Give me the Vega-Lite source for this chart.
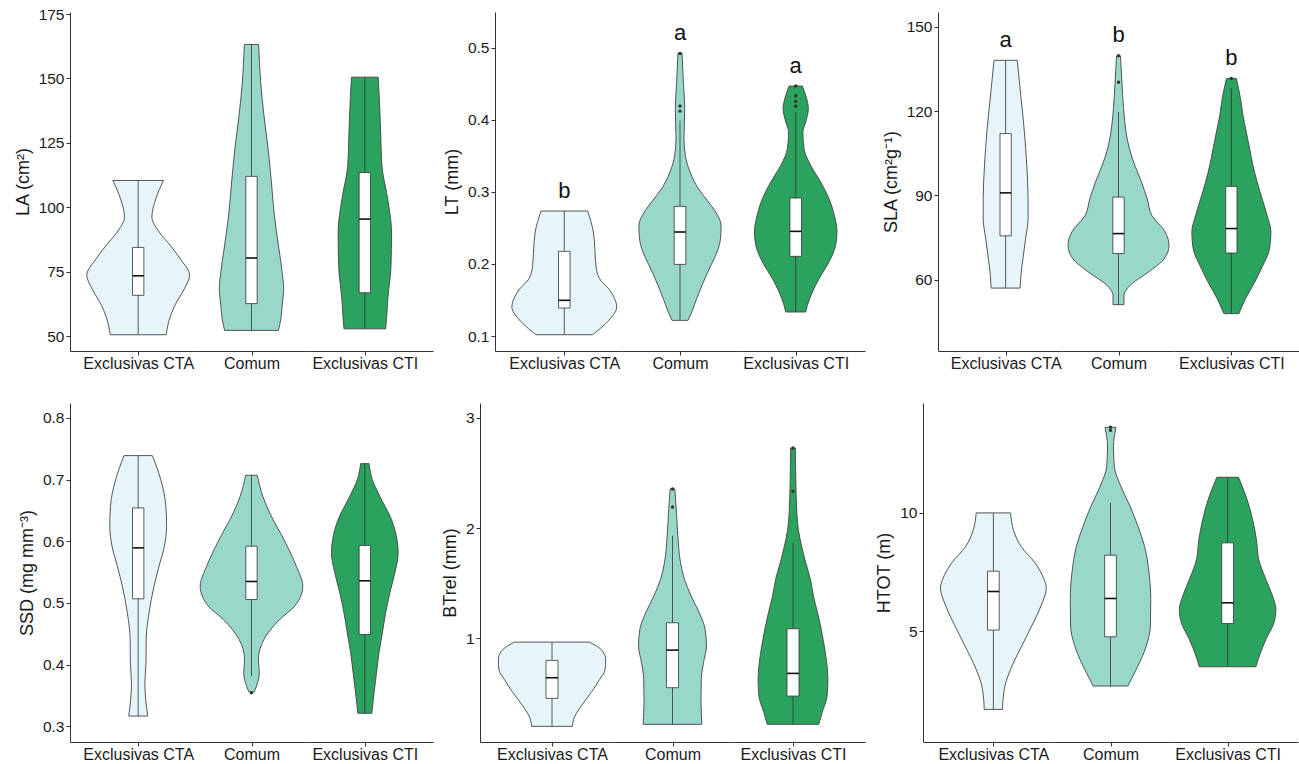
{
"$schema":"https://vega.github.io/schema/vega-lite/v6.json",
"background":"white",
"padding":{"left":14,"top":7,"right":2,"bottom":2},
"config":{"font":"Liberation Sans","view":{"stroke":null},
"axis":{"grid":false,"domainColor":"#333","tickColor":"#333","labelColor":"#1a1a1a","titleColor":"#1a1a1a","titleFontWeight":"normal","domainWidth":1,"tickWidth":1},
"axisY":{"labelFontSize":15.5,"titleFontSize":18,"tickSize":4,"labelPadding":2,"titlePadding":6},
"axisX":{"labelFontSize":16,"tickSize":4,"labelPadding":0,"labelFlush":false},
"circle":{"size":12,"color":"#333","opacity":1}},
"data":{"values":[
{"p":"LA","g":"Exclusivas CTA","k":"v","y":110.4,"w":0.446},{"p":"LA","g":"Exclusivas CTA","k":"v","y":103.3,"w":0.311},{"p":"LA","g":"Exclusivas CTA","k":"v","y":96.2,"w":0.241},{"p":"LA","g":"Exclusivas CTA","k":"v","y":90.4,"w":0.370},{"p":"LA","g":"Exclusivas CTA","k":"v","y":85.2,"w":0.564},{"p":"LA","g":"Exclusivas CTA","k":"v","y":80.0,"w":0.740},{"p":"LA","g":"Exclusivas CTA","k":"v","y":73.6,"w":0.905},{"p":"LA","g":"Exclusivas CTA","k":"v","y":68.4,"w":0.813},{"p":"LA","g":"Exclusivas CTA","k":"v","y":61.9,"w":0.646},{"p":"LA","g":"Exclusivas CTA","k":"v","y":56.7,"w":0.552},{"p":"LA","g":"Exclusivas CTA","k":"v","y":50.5,"w":0.493},
{"p":"LA","g":"Comum","k":"v","y":163.2,"w":0.126},{"p":"LA","g":"Comum","k":"v","y":148.6,"w":0.162},{"p":"LA","g":"Comum","k":"v","y":135.7,"w":0.220},{"p":"LA","g":"Comum","k":"v","y":122.7,"w":0.294},{"p":"LA","g":"Comum","k":"v","y":109.8,"w":0.352},{"p":"LA","g":"Comum","k":"v","y":96.8,"w":0.405},{"p":"LA","g":"Comum","k":"v","y":83.9,"w":0.485},{"p":"LA","g":"Comum","k":"v","y":74.8,"w":0.543},{"p":"LA","g":"Comum","k":"v","y":68.4,"w":0.570},{"p":"LA","g":"Comum","k":"v","y":61.9,"w":0.543},{"p":"LA","g":"Comum","k":"v","y":56.7,"w":0.520},{"p":"LA","g":"Comum","k":"v","y":52.2,"w":0.476},
{"p":"LA","g":"Exclusivas CTI","k":"v","y":150.5,"w":0.235},{"p":"LA","g":"Exclusivas CTI","k":"v","y":142.1,"w":0.256},{"p":"LA","g":"Exclusivas CTI","k":"v","y":129.2,"w":0.279},{"p":"LA","g":"Exclusivas CTI","k":"v","y":116.3,"w":0.300},{"p":"LA","g":"Exclusivas CTI","k":"v","y":103.3,"w":0.402},{"p":"LA","g":"Exclusivas CTI","k":"v","y":90.4,"w":0.470},{"p":"LA","g":"Exclusivas CTI","k":"v","y":77.4,"w":0.461},{"p":"LA","g":"Exclusivas CTI","k":"v","y":64.5,"w":0.405},{"p":"LA","g":"Exclusivas CTI","k":"v","y":56.7,"w":0.382},{"p":"LA","g":"Exclusivas CTI","k":"v","y":52.8,"w":0.367},
{"p":"LT","g":"Exclusivas CTA","k":"v","y":0.2734,"w":0.404},{"p":"LT","g":"Exclusivas CTA","k":"v","y":0.2443,"w":0.504},{"p":"LT","g":"Exclusivas CTA","k":"v","y":0.2212,"w":0.530},{"p":"LT","g":"Exclusivas CTA","k":"v","y":0.1980,"w":0.548},{"p":"LT","g":"Exclusivas CTA","k":"v","y":0.1795,"w":0.611},{"p":"LT","g":"Exclusivas CTA","k":"v","y":0.1657,"w":0.767},{"p":"LT","g":"Exclusivas CTA","k":"v","y":0.1518,"w":0.873},{"p":"LT","g":"Exclusivas CTA","k":"v","y":0.1402,"w":0.908},{"p":"LT","g":"Exclusivas CTA","k":"v","y":0.1240,"w":0.796},{"p":"LT","g":"Exclusivas CTA","k":"v","y":0.1102,"w":0.620},{"p":"LT","g":"Exclusivas CTA","k":"v","y":0.1018,"w":0.490},
{"p":"LT","g":"Comum","k":"v","y":0.4926,"w":0.035},{"p":"LT","g":"Comum","k":"v","y":0.4524,"w":0.058},{"p":"LT","g":"Comum","k":"v","y":0.4154,"w":0.081},{"p":"LT","g":"Comum","k":"v","y":0.3738,"w":0.069},{"p":"LT","g":"Comum","k":"v","y":0.3506,"w":0.092},{"p":"LT","g":"Comum","k":"v","y":0.3275,"w":0.173},{"p":"LT","g":"Comum","k":"v","y":0.3044,"w":0.317},{"p":"LT","g":"Comum","k":"v","y":0.2859,"w":0.490},{"p":"LT","g":"Comum","k":"v","y":0.2674,"w":0.649},{"p":"LT","g":"Comum","k":"v","y":0.2535,"w":0.709},{"p":"LT","g":"Comum","k":"v","y":0.2350,"w":0.698},{"p":"LT","g":"Comum","k":"v","y":0.2165,"w":0.640},{"p":"LT","g":"Comum","k":"v","y":0.1980,"w":0.533},{"p":"LT","g":"Comum","k":"v","y":0.1749,"w":0.404},{"p":"LT","g":"Comum","k":"v","y":0.1518,"w":0.288},{"p":"LT","g":"Comum","k":"v","y":0.1333,"w":0.202},{"p":"LT","g":"Comum","k":"v","y":0.1217,"w":0.138},
{"p":"LT","g":"Exclusivas CTI","k":"v","y":0.4468,"w":0.115},{"p":"LT","g":"Exclusivas CTI","k":"v","y":0.4293,"w":0.190},{"p":"LT","g":"Exclusivas CTI","k":"v","y":0.4154,"w":0.219},{"p":"LT","g":"Exclusivas CTI","k":"v","y":0.3969,"w":0.173},{"p":"LT","g":"Exclusivas CTI","k":"v","y":0.3830,"w":0.124},{"p":"LT","g":"Exclusivas CTI","k":"v","y":0.3599,"w":0.144},{"p":"LT","g":"Exclusivas CTI","k":"v","y":0.3368,"w":0.259},{"p":"LT","g":"Exclusivas CTI","k":"v","y":0.3136,"w":0.432},{"p":"LT","g":"Exclusivas CTI","k":"v","y":0.2905,"w":0.577},{"p":"LT","g":"Exclusivas CTI","k":"v","y":0.2674,"w":0.669},{"p":"LT","g":"Exclusivas CTI","k":"v","y":0.2443,"w":0.715},{"p":"LT","g":"Exclusivas CTI","k":"v","y":0.2258,"w":0.692},{"p":"LT","g":"Exclusivas CTI","k":"v","y":0.2027,"w":0.577},{"p":"LT","g":"Exclusivas CTI","k":"v","y":0.1795,"w":0.404},{"p":"LT","g":"Exclusivas CTI","k":"v","y":0.1610,"w":0.288},{"p":"LT","g":"Exclusivas CTI","k":"v","y":0.1425,"w":0.202},{"p":"LT","g":"Exclusivas CTI","k":"v","y":0.1333,"w":0.173},
{"p":"SLA","g":"Exclusivas CTA","k":"v","y":138.1,"w":0.206},{"p":"SLA","g":"Exclusivas CTA","k":"v","y":124.5,"w":0.274},{"p":"SLA","g":"Exclusivas CTA","k":"v","y":112.6,"w":0.333},{"p":"SLA","g":"Exclusivas CTA","k":"v","y":100.7,"w":0.375},{"p":"SLA","g":"Exclusivas CTA","k":"v","y":88.8,"w":0.398},{"p":"SLA","g":"Exclusivas CTA","k":"v","y":81.7,"w":0.398},{"p":"SLA","g":"Exclusivas CTA","k":"v","y":74.6,"w":0.354},{"p":"SLA","g":"Exclusivas CTA","k":"v","y":67.5,"w":0.307},{"p":"SLA","g":"Exclusivas CTA","k":"v","y":61.5,"w":0.271},{"p":"SLA","g":"Exclusivas CTA","k":"v","y":57.0,"w":0.257},
{"p":"SLA","g":"Comum","k":"v","y":139.7,"w":0.035},{"p":"SLA","g":"Comum","k":"v","y":130.4,"w":0.060},{"p":"SLA","g":"Comum","k":"v","y":120.9,"w":0.090},{"p":"SLA","g":"Comum","k":"v","y":112.6,"w":0.133},{"p":"SLA","g":"Comum","k":"v","y":106.7,"w":0.192},{"p":"SLA","g":"Comum","k":"v","y":100.7,"w":0.289},{"p":"SLA","g":"Comum","k":"v","y":94.8,"w":0.407},{"p":"SLA","g":"Comum","k":"v","y":88.8,"w":0.507},{"p":"SLA","g":"Comum","k":"v","y":82.9,"w":0.590},{"p":"SLA","g":"Comum","k":"v","y":77.0,"w":0.826},{"p":"SLA","g":"Comum","k":"v","y":72.2,"w":0.894},{"p":"SLA","g":"Comum","k":"v","y":67.5,"w":0.811},{"p":"SLA","g":"Comum","k":"v","y":62.7,"w":0.531},{"p":"SLA","g":"Comum","k":"v","y":58.0,"w":0.206},{"p":"SLA","g":"Comum","k":"v","y":54.4,"w":0.097},{"p":"SLA","g":"Comum","k":"v","y":51.1,"w":0.097},
{"p":"SLA","g":"Exclusivas CTI","k":"v","y":131.6,"w":0.088},{"p":"SLA","g":"Exclusivas CTI","k":"v","y":124.5,"w":0.162},{"p":"SLA","g":"Exclusivas CTI","k":"v","y":118.5,"w":0.206},{"p":"SLA","g":"Exclusivas CTI","k":"v","y":112.6,"w":0.265},{"p":"SLA","g":"Exclusivas CTI","k":"v","y":106.7,"w":0.324},{"p":"SLA","g":"Exclusivas CTI","k":"v","y":100.7,"w":0.383},{"p":"SLA","g":"Exclusivas CTI","k":"v","y":94.8,"w":0.457},{"p":"SLA","g":"Exclusivas CTI","k":"v","y":88.8,"w":0.546},{"p":"SLA","g":"Exclusivas CTI","k":"v","y":82.9,"w":0.634},{"p":"SLA","g":"Exclusivas CTI","k":"v","y":77.0,"w":0.702},{"p":"SLA","g":"Exclusivas CTI","k":"v","y":71.0,"w":0.678},{"p":"SLA","g":"Exclusivas CTI","k":"v","y":65.1,"w":0.560},{"p":"SLA","g":"Exclusivas CTI","k":"v","y":59.1,"w":0.413},{"p":"SLA","g":"Exclusivas CTI","k":"v","y":53.2,"w":0.251},{"p":"SLA","g":"Exclusivas CTI","k":"v","y":47.9,"w":0.133},
{"p":"SSD","g":"Exclusivas CTA","k":"v","y":0.7390,"w":0.250},{"p":"SSD","g":"Exclusivas CTA","k":"v","y":0.7001,"w":0.397},{"p":"SSD","g":"Exclusivas CTA","k":"v","y":0.6569,"w":0.488},{"p":"SSD","g":"Exclusivas CTA","k":"v","y":0.6245,"w":0.500},{"p":"SSD","g":"Exclusivas CTA","k":"v","y":0.5921,"w":0.461},{"p":"SSD","g":"Exclusivas CTA","k":"v","y":0.5597,"w":0.367},{"p":"SSD","g":"Exclusivas CTA","k":"v","y":0.5273,"w":0.279},{"p":"SSD","g":"Exclusivas CTA","k":"v","y":0.4841,"w":0.191},{"p":"SSD","g":"Exclusivas CTA","k":"v","y":0.4409,"w":0.141},{"p":"SSD","g":"Exclusivas CTA","k":"v","y":0.4031,"w":0.138},{"p":"SSD","g":"Exclusivas CTA","k":"v","y":0.3707,"w":0.118},{"p":"SSD","g":"Exclusivas CTA","k":"v","y":0.3437,"w":0.132},{"p":"SSD","g":"Exclusivas CTA","k":"v","y":0.3167,"w":0.167},
{"p":"SSD","g":"Comum","k":"v","y":0.7071,"w":0.103},{"p":"SSD","g":"Comum","k":"v","y":0.6731,"w":0.200},{"p":"SSD","g":"Comum","k":"v","y":0.6461,"w":0.323},{"p":"SSD","g":"Comum","k":"v","y":0.6029,"w":0.573},{"p":"SSD","g":"Comum","k":"v","y":0.5597,"w":0.793},{"p":"SSD","g":"Comum","k":"v","y":0.5273,"w":0.908},{"p":"SSD","g":"Comum","k":"v","y":0.4949,"w":0.764},{"p":"SSD","g":"Comum","k":"v","y":0.4733,"w":0.500},{"p":"SSD","g":"Comum","k":"v","y":0.4409,"w":0.220},{"p":"SSD","g":"Comum","k":"v","y":0.4085,"w":0.123},{"p":"SSD","g":"Comum","k":"v","y":0.3869,"w":0.138},{"p":"SSD","g":"Comum","k":"v","y":0.3653,"w":0.088},{"p":"SSD","g":"Comum","k":"v","y":0.3556,"w":0.044},
{"p":"SSD","g":"Exclusivas CTI","k":"v","y":0.7260,"w":0.073},{"p":"SSD","g":"Exclusivas CTI","k":"v","y":0.7001,"w":0.132},{"p":"SSD","g":"Exclusivas CTI","k":"v","y":0.6731,"w":0.264},{"p":"SSD","g":"Exclusivas CTI","k":"v","y":0.6353,"w":0.470},{"p":"SSD","g":"Exclusivas CTI","k":"v","y":0.6029,"w":0.567},{"p":"SSD","g":"Exclusivas CTI","k":"v","y":0.5813,"w":0.588},{"p":"SSD","g":"Exclusivas CTI","k":"v","y":0.5489,"w":0.529},{"p":"SSD","g":"Exclusivas CTI","k":"v","y":0.5165,"w":0.441},{"p":"SSD","g":"Exclusivas CTI","k":"v","y":0.4841,"w":0.367},{"p":"SSD","g":"Exclusivas CTI","k":"v","y":0.4517,"w":0.309},{"p":"SSD","g":"Exclusivas CTI","k":"v","y":0.4193,"w":0.250},{"p":"SSD","g":"Exclusivas CTI","k":"v","y":0.3869,"w":0.206},{"p":"SSD","g":"Exclusivas CTI","k":"v","y":0.3491,"w":0.156},{"p":"SSD","g":"Exclusivas CTI","k":"v","y":0.3211,"w":0.123},
{"p":"BTrel","g":"Exclusivas CTA","k":"v","y":0.9668,"w":0.626},{"p":"BTrel","g":"Exclusivas CTA","k":"v","y":0.9003,"w":0.817},{"p":"BTrel","g":"Exclusivas CTA","k":"v","y":0.8097,"w":0.895},{"p":"BTrel","g":"Exclusivas CTA","k":"v","y":0.7190,"w":0.886},{"p":"BTrel","g":"Exclusivas CTA","k":"v","y":0.6284,"w":0.795},{"p":"BTrel","g":"Exclusivas CTA","k":"v","y":0.5076,"w":0.651},{"p":"BTrel","g":"Exclusivas CTA","k":"v","y":0.3867,"w":0.485},{"p":"BTrel","g":"Exclusivas CTA","k":"v","y":0.2659,"w":0.360},{"p":"BTrel","g":"Exclusivas CTA","k":"v","y":0.2024,"w":0.341},
{"p":"BTrel","g":"Comum","k":"v","y":2.3565,"w":0.039},{"p":"BTrel","g":"Comum","k":"v","y":2.1390,"w":0.066},{"p":"BTrel","g":"Comum","k":"v","y":1.9275,"w":0.089},{"p":"BTrel","g":"Comum","k":"v","y":1.6858,"w":0.133},{"p":"BTrel","g":"Comum","k":"v","y":1.5347,"w":0.199},{"p":"BTrel","g":"Comum","k":"v","y":1.3837,"w":0.310},{"p":"BTrel","g":"Comum","k":"v","y":1.2326,"w":0.443},{"p":"BTrel","g":"Comum","k":"v","y":1.0816,"w":0.540},{"p":"BTrel","g":"Comum","k":"v","y":0.9305,"w":0.562},{"p":"BTrel","g":"Comum","k":"v","y":0.7795,"w":0.512},{"p":"BTrel","g":"Comum","k":"v","y":0.6284,"w":0.476},{"p":"BTrel","g":"Comum","k":"v","y":0.4471,"w":0.471},{"p":"BTrel","g":"Comum","k":"v","y":0.3263,"w":0.476},{"p":"BTrel","g":"Comum","k":"v","y":0.2205,"w":0.485},
{"p":"BTrel","g":"Exclusivas CTI","k":"v","y":2.7281,"w":0.039},{"p":"BTrel","g":"Exclusivas CTI","k":"v","y":2.4411,"w":0.047},{"p":"BTrel","g":"Exclusivas CTI","k":"v","y":2.1390,"w":0.064},{"p":"BTrel","g":"Exclusivas CTI","k":"v","y":1.9879,"w":0.089},{"p":"BTrel","g":"Exclusivas CTI","k":"v","y":1.8369,"w":0.144},{"p":"BTrel","g":"Exclusivas CTI","k":"v","y":1.6858,"w":0.213},{"p":"BTrel","g":"Exclusivas CTI","k":"v","y":1.5347,"w":0.291},{"p":"BTrel","g":"Exclusivas CTI","k":"v","y":1.3837,"w":0.341},{"p":"BTrel","g":"Exclusivas CTI","k":"v","y":1.2326,"w":0.410},{"p":"BTrel","g":"Exclusivas CTI","k":"v","y":1.0816,"w":0.471},{"p":"BTrel","g":"Exclusivas CTI","k":"v","y":0.9305,"w":0.521},{"p":"BTrel","g":"Exclusivas CTI","k":"v","y":0.7795,"w":0.562},{"p":"BTrel","g":"Exclusivas CTI","k":"v","y":0.6284,"w":0.582},{"p":"BTrel","g":"Exclusivas CTI","k":"v","y":0.4773,"w":0.568},{"p":"BTrel","g":"Exclusivas CTI","k":"v","y":0.3263,"w":0.485},{"p":"BTrel","g":"Exclusivas CTI","k":"v","y":0.2205,"w":0.429},
{"p":"HTOT","g":"Exclusivas CTA","k":"v","y":10.0,"w":0.293},{"p":"HTOT","g":"Exclusivas CTA","k":"v","y":9.298,"w":0.341},{"p":"HTOT","g":"Exclusivas CTA","k":"v","y":8.596,"w":0.469},{"p":"HTOT","g":"Exclusivas CTA","k":"v","y":7.893,"w":0.710},{"p":"HTOT","g":"Exclusivas CTA","k":"v","y":7.191,"w":0.866},{"p":"HTOT","g":"Exclusivas CTA","k":"v","y":6.840,"w":0.903},{"p":"HTOT","g":"Exclusivas CTA","k":"v","y":6.067,"w":0.810},{"p":"HTOT","g":"Exclusivas CTA","k":"v","y":5.225,"w":0.653},{"p":"HTOT","g":"Exclusivas CTA","k":"v","y":4.382,"w":0.483},{"p":"HTOT","g":"Exclusivas CTA","k":"v","y":3.399,"w":0.293},{"p":"HTOT","g":"Exclusivas CTA","k":"v","y":2.837,"w":0.210},{"p":"HTOT","g":"Exclusivas CTA","k":"v","y":2.275,"w":0.170},{"p":"HTOT","g":"Exclusivas CTA","k":"v","y":1.713,"w":0.156},
{"p":"HTOT","g":"Comum","k":"v","y":13.61,"w":0.094},{"p":"HTOT","g":"Comum","k":"v","y":12.809,"w":0.051},{"p":"HTOT","g":"Comum","k":"v","y":11.966,"w":0.065},{"p":"HTOT","g":"Comum","k":"v","y":11.124,"w":0.176},{"p":"HTOT","g":"Comum","k":"v","y":10.281,"w":0.335},{"p":"HTOT","g":"Comum","k":"v","y":9.438,"w":0.469},{"p":"HTOT","g":"Comum","k":"v","y":8.596,"w":0.582},{"p":"HTOT","g":"Comum","k":"v","y":7.472,"w":0.659},{"p":"HTOT","g":"Comum","k":"v","y":6.348,"w":0.688},{"p":"HTOT","g":"Comum","k":"v","y":5.225,"w":0.682},{"p":"HTOT","g":"Comum","k":"v","y":4.382,"w":0.611},{"p":"HTOT","g":"Comum","k":"v","y":3.539,"w":0.469},{"p":"HTOT","g":"Comum","k":"v","y":2.978,"w":0.355},{"p":"HTOT","g":"Comum","k":"v","y":2.697,"w":0.298},
{"p":"HTOT","g":"Exclusivas CTI","k":"v","y":11.503,"w":0.185},{"p":"HTOT","g":"Exclusivas CTI","k":"v","y":10.702,"w":0.313},{"p":"HTOT","g":"Exclusivas CTI","k":"v","y":9.719,"w":0.426},{"p":"HTOT","g":"Exclusivas CTI","k":"v","y":8.876,"w":0.491},{"p":"HTOT","g":"Exclusivas CTI","k":"v","y":8.034,"w":0.531},{"p":"HTOT","g":"Exclusivas CTI","k":"v","y":7.191,"w":0.653},{"p":"HTOT","g":"Exclusivas CTI","k":"v","y":6.489,"w":0.767},{"p":"HTOT","g":"Exclusivas CTI","k":"v","y":5.927,"w":0.824},{"p":"HTOT","g":"Exclusivas CTI","k":"v","y":5.365,"w":0.790},{"p":"HTOT","g":"Exclusivas CTI","k":"v","y":4.663,"w":0.653},{"p":"HTOT","g":"Exclusivas CTI","k":"v","y":3.961,"w":0.540},{"p":"HTOT","g":"Exclusivas CTI","k":"v","y":3.511,"w":0.483},
{"p":"LA","g":"Exclusivas CTA","k":"b","lo":50.5,"q1":65.8,"md":73.4,"q3":84.4,"hi":110.4},
{"p":"LA","g":"Comum","k":"b","lo":52.2,"q1":62.6,"md":80.3,"q3":112.0,"hi":163.2},
{"p":"LA","g":"Exclusivas CTI","k":"b","lo":52.8,"q1":66.8,"md":95.4,"q3":113.5,"hi":150.5},
{"p":"LT","g":"Exclusivas CTA","k":"b","lo":0.1018,"q1":0.1388,"md":0.1495,"q3":0.2175,"hi":0.2734},
{"p":"LT","g":"Comum","k":"b","lo":0.1217,"q1":0.1994,"md":0.2443,"q3":0.2799,"hi":0.3987},
{"p":"LT","g":"Exclusivas CTI","k":"b","lo":0.1333,"q1":0.2105,"md":0.2452,"q3":0.2914,"hi":0.4108},
{"p":"SLA","g":"Exclusivas CTA","k":"b","lo":57.0,"q1":75.6,"md":90.9,"q3":112.0,"hi":138.1},
{"p":"SLA","g":"Comum","k":"b","lo":51.1,"q1":69.3,"md":76.4,"q3":89.4,"hi":119.7},
{"p":"SLA","g":"Exclusivas CTI","k":"b","lo":47.9,"q1":69.5,"md":78.2,"q3":93.2,"hi":128.3},
{"p":"SSD","g":"Exclusivas CTA","k":"b","lo":0.3167,"q1":0.5068,"md":0.5894,"q3":0.6542,"hi":0.7390},
{"p":"SSD","g":"Comum","k":"b","lo":0.3815,"q1":0.5057,"md":0.5349,"q3":0.5921,"hi":0.7071},
{"p":"SSD","g":"Exclusivas CTI","k":"b","lo":0.3211,"q1":0.4490,"md":0.5360,"q3":0.5932,"hi":0.7260},
{"p":"BTrel","g":"Exclusivas CTA","k":"b","lo":0.2024,"q1":0.4562,"md":0.6435,"q3":0.8006,"hi":0.9668},
{"p":"BTrel","g":"Comum","k":"b","lo":0.2205,"q1":0.5529,"md":0.8943,"q3":1.1420,"hi":1.9335},
{"p":"BTrel","g":"Exclusivas CTI","k":"b","lo":0.2205,"q1":0.4773,"md":0.6828,"q3":1.0876,"hi":1.867},
{"p":"HTOT","g":"Exclusivas CTA","k":"b","lo":1.713,"q1":5.056,"md":6.685,"q3":7.542,"hi":10.0},
{"p":"HTOT","g":"Comum","k":"b","lo":2.697,"q1":4.775,"md":6.390,"q3":8.216,"hi":10.42},
{"p":"HTOT","g":"Exclusivas CTI","k":"b","lo":3.511,"q1":5.337,"md":6.208,"q3":8.736,"hi":11.503},
{"p":"LT","g":"Comum","k":"o","y":0.492},{"p":"LT","g":"Comum","k":"o","y":0.419},{"p":"LT","g":"Comum","k":"o","y":0.412},
{"p":"LT","g":"Exclusivas CTI","k":"o","y":0.4468},{"p":"LT","g":"Exclusivas CTI","k":"o","y":0.4334},{"p":"LT","g":"Exclusivas CTI","k":"o","y":0.4255},{"p":"LT","g":"Exclusivas CTI","k":"o","y":0.4186},
{"p":"SLA","g":"Comum","k":"o","y":139.7},{"p":"SLA","g":"Comum","k":"o","y":130.3},{"p":"SLA","g":"Exclusivas CTI","k":"o","y":131.6},
{"p":"SSD","g":"Comum","k":"o","y":0.3545},
{"p":"BTrel","g":"Comum","k":"o","y":2.356},{"p":"BTrel","g":"Comum","k":"o","y":2.193},{"p":"BTrel","g":"Exclusivas CTI","k":"o","y":2.728},{"p":"BTrel","g":"Exclusivas CTI","k":"o","y":2.335},
{"p":"HTOT","g":"Comum","k":"o","y":13.61},{"p":"HTOT","g":"Comum","k":"o","y":13.48},
{"p":"LT","g":"Exclusivas CTA","k":"t","y":0.3007,"l":"b"},{"p":"LT","g":"Comum","k":"t","y":0.5204,"l":"a"},{"p":"LT","g":"Exclusivas CTI","k":"t","y":0.4746,"l":"a"},
{"p":"SLA","g":"Exclusivas CTA","k":"t","y":145.5,"l":"a"},{"p":"SLA","g":"Comum","k":"t","y":147.0,"l":"b"},{"p":"SLA","g":"Exclusivas CTI","k":"t","y":139.0,"l":"b"}
]},
"spacing":32,
"vconcat":[
{"spacing":10,"hconcat":[
{"spacing":0,"bounds":"flush","hconcat":[
{"width":125,"height":339,"transform":[{"filter":"datum.p=='LA' && datum.g=='Exclusivas CTA'"}],"layer":[
{"transform":[{"filter":"datum.k=='v'"}],"mark":{"type":"area","orient":"horizontal","interpolate":"monotone","fill":"#e5f5f9","stroke":"#444","strokeWidth":0.9},"encoding":{"y":{"field":"y","type":"quantitative","scale":{"domain":[44.2,175.8],"nice":false,"zero":false},"axis":{"values":[50,75,100,125,150,175],"format":"d","title":"LA (cm²)"}},"x":{"field":"w","type":"quantitative","stack":"center","impute":null,"scale":{"domain":[-0.1475,0.9525],"nice":false,"zero":false},"axis":{"values":[0.4525],"labelExpr":"'Exclusivas CTA'","title":null}}}},
{"transform":[{"filter":"datum.k=='b'"}],"mark":{"type":"rule","color":"#333","strokeWidth":0.8},"encoding":{"x":{"datum":0.4525},"y":{"field":"lo","type":"quantitative"},"y2":{"field":"hi"}}},
{"transform":[{"filter":"datum.k=='b'"}],"mark":{"type":"bar","fill":"white","stroke":"#333","strokeWidth":0.8},"encoding":{"x":{"datum":0.4025},"x2":{"datum":0.5025},"y":{"field":"q1","type":"quantitative"},"y2":{"field":"q3"}}},
{"transform":[{"filter":"datum.k=='b'"}],"mark":{"type":"rule","color":"#111","strokeWidth":1.6},"encoding":{"x":{"datum":0.4025},"x2":{"datum":0.5025},"y":{"field":"md","type":"quantitative"}}}
]},
{"width":113,"height":339,"transform":[{"filter":"datum.p=='LA' && datum.g=='Comum'"}],"layer":[
{"transform":[{"filter":"datum.k=='v'"}],"mark":{"type":"area","orient":"horizontal","interpolate":"monotone","fill":"#99d8c9","stroke":"#444","strokeWidth":0.9},"encoding":{"y":{"field":"y","type":"quantitative","scale":{"domain":[44.2,175.8],"nice":false,"zero":false},"axis":null},"x":{"field":"w","type":"quantitative","stack":"center","impute":null,"scale":{"domain":[-0.215,0.785],"nice":false,"zero":false},"axis":{"values":[0.285],"labelExpr":"'Comum'","title":null}}}},
{"transform":[{"filter":"datum.k=='b'"}],"mark":{"type":"rule","color":"#333","strokeWidth":0.8},"encoding":{"x":{"datum":0.285},"y":{"field":"lo","type":"quantitative"},"y2":{"field":"hi"}}},
{"transform":[{"filter":"datum.k=='b'"}],"mark":{"type":"bar","fill":"white","stroke":"#333","strokeWidth":0.8},"encoding":{"x":{"datum":0.235},"x2":{"datum":0.335},"y":{"field":"q1","type":"quantitative"},"y2":{"field":"q3"}}},
{"transform":[{"filter":"datum.k=='b'"}],"mark":{"type":"rule","color":"#111","strokeWidth":1.6},"encoding":{"x":{"datum":0.235},"x2":{"datum":0.335},"y":{"field":"md","type":"quantitative"}}}
]},
{"width":125,"height":339,"transform":[{"filter":"datum.p=='LA' && datum.g=='Exclusivas CTI'"}],"layer":[
{"transform":[{"filter":"datum.k=='v'"}],"mark":{"type":"area","orient":"horizontal","interpolate":"monotone","fill":"#2ca25f","stroke":"#444","strokeWidth":0.9},"encoding":{"y":{"field":"y","type":"quantitative","scale":{"domain":[44.2,175.8],"nice":false,"zero":false},"axis":null},"x":{"field":"w","type":"quantitative","stack":"center","impute":null,"scale":{"domain":[-0.265,0.835],"nice":false,"zero":false},"axis":{"values":[0.235],"labelExpr":"'Exclusivas CTI'","title":null}}}},
{"transform":[{"filter":"datum.k=='b'"}],"mark":{"type":"rule","color":"#333","strokeWidth":0.8},"encoding":{"x":{"datum":0.235},"y":{"field":"lo","type":"quantitative"},"y2":{"field":"hi"}}},
{"transform":[{"filter":"datum.k=='b'"}],"mark":{"type":"bar","fill":"white","stroke":"#333","strokeWidth":0.8},"encoding":{"x":{"datum":0.185},"x2":{"datum":0.285},"y":{"field":"q1","type":"quantitative"},"y2":{"field":"q3"}}},
{"transform":[{"filter":"datum.k=='b'"}],"mark":{"type":"rule","color":"#111","strokeWidth":1.6},"encoding":{"x":{"datum":0.185},"x2":{"datum":0.285},"y":{"field":"md","type":"quantitative"}}}
]}
]},
{"spacing":17,"hconcat":[
{"spacing":0,"bounds":"flush","hconcat":[
{"width":127,"height":339,"transform":[{"filter":"datum.p=='LT' && datum.g=='Exclusivas CTA'"}],"layer":[
{"transform":[{"filter":"datum.k=='v'"}],"mark":{"type":"area","orient":"horizontal","interpolate":"monotone","fill":"#e5f5f9","stroke":"#444","strokeWidth":0.9},"encoding":{"y":{"field":"y","type":"quantitative","scale":{"domain":[0.0792,0.5495],"nice":false,"zero":false},"axis":{"values":[0.1,0.2,0.3,0.4,0.5],"format":".1f","title":"LT (mm)"}},"x":{"field":"w","type":"quantitative","stack":"center","impute":null,"scale":{"domain":[-0.146,0.954],"nice":false,"zero":false},"axis":{"values":[0.454],"labelExpr":"'Exclusivas CTA'","title":null}}}},
{"transform":[{"filter":"datum.k=='b'"}],"mark":{"type":"rule","color":"#333","strokeWidth":0.8},"encoding":{"x":{"datum":0.454},"y":{"field":"lo","type":"quantitative"},"y2":{"field":"hi"}}},
{"transform":[{"filter":"datum.k=='b'"}],"mark":{"type":"bar","fill":"white","stroke":"#333","strokeWidth":0.8},"encoding":{"x":{"datum":0.404},"x2":{"datum":0.504},"y":{"field":"q1","type":"quantitative"},"y2":{"field":"q3"}}},
{"transform":[{"filter":"datum.k=='b'"}],"mark":{"type":"rule","color":"#111","strokeWidth":1.6},"encoding":{"x":{"datum":0.404},"x2":{"datum":0.504},"y":{"field":"md","type":"quantitative"}}},
{"transform":[{"filter":"datum.k=='t'"}],"mark":{"type":"text","fontSize":22,"color":"#111","baseline":"middle"},"encoding":{"x":{"datum":0.454},"y":{"field":"y","type":"quantitative"},"text":{"field":"l"}}}
]},
{"width":116,"height":339,"transform":[{"filter":"datum.p=='LT' && datum.g=='Comum'"}],"layer":[
{"transform":[{"filter":"datum.k=='v'"}],"mark":{"type":"area","orient":"horizontal","interpolate":"monotone","fill":"#99d8c9","stroke":"#444","strokeWidth":0.9},"encoding":{"y":{"field":"y","type":"quantitative","scale":{"domain":[0.0792,0.5495],"nice":false,"zero":false},"axis":null},"x":{"field":"w","type":"quantitative","stack":"center","impute":null,"scale":{"domain":[-0.1455,0.8545],"nice":false,"zero":false},"axis":{"values":[0.3545],"labelExpr":"'Comum'","title":null}}}},
{"transform":[{"filter":"datum.k=='b'"}],"mark":{"type":"rule","color":"#333","strokeWidth":0.8},"encoding":{"x":{"datum":0.3545},"y":{"field":"lo","type":"quantitative"},"y2":{"field":"hi"}}},
{"transform":[{"filter":"datum.k=='b'"}],"mark":{"type":"bar","fill":"white","stroke":"#333","strokeWidth":0.8},"encoding":{"x":{"datum":0.3045},"x2":{"datum":0.4045},"y":{"field":"q1","type":"quantitative"},"y2":{"field":"q3"}}},
{"transform":[{"filter":"datum.k=='b'"}],"mark":{"type":"rule","color":"#111","strokeWidth":1.6},"encoding":{"x":{"datum":0.3045},"x2":{"datum":0.4045},"y":{"field":"md","type":"quantitative"}}},
{"transform":[{"filter":"datum.k=='o'"}],"mark":{"type":"circle"},"encoding":{"x":{"datum":0.3545},"y":{"field":"y","type":"quantitative"}}},
{"transform":[{"filter":"datum.k=='t'"}],"mark":{"type":"text","fontSize":22,"color":"#111","baseline":"middle"},"encoding":{"x":{"datum":0.3545},"y":{"field":"y","type":"quantitative"},"text":{"field":"l"}}}
]},
{"width":127,"height":339,"transform":[{"filter":"datum.p=='LT' && datum.g=='Exclusivas CTI'"}],"layer":[
{"transform":[{"filter":"datum.k=='v'"}],"mark":{"type":"area","orient":"horizontal","interpolate":"monotone","fill":"#2ca25f","stroke":"#444","strokeWidth":0.9},"encoding":{"y":{"field":"y","type":"quantitative","scale":{"domain":[0.0792,0.5495],"nice":false,"zero":false},"axis":null},"x":{"field":"w","type":"quantitative","stack":"center","impute":null,"scale":{"domain":[-0.1425,0.9575],"nice":false,"zero":false},"axis":{"values":[0.3575],"labelExpr":"'Exclusivas CTI'","title":null}}}},
{"transform":[{"filter":"datum.k=='b'"}],"mark":{"type":"rule","color":"#333","strokeWidth":0.8},"encoding":{"x":{"datum":0.3575},"y":{"field":"lo","type":"quantitative"},"y2":{"field":"hi"}}},
{"transform":[{"filter":"datum.k=='b'"}],"mark":{"type":"bar","fill":"white","stroke":"#333","strokeWidth":0.8},"encoding":{"x":{"datum":0.3075},"x2":{"datum":0.4075},"y":{"field":"q1","type":"quantitative"},"y2":{"field":"q3"}}},
{"transform":[{"filter":"datum.k=='b'"}],"mark":{"type":"rule","color":"#111","strokeWidth":1.6},"encoding":{"x":{"datum":0.3075},"x2":{"datum":0.4075},"y":{"field":"md","type":"quantitative"}}},
{"transform":[{"filter":"datum.k=='o'"}],"mark":{"type":"circle"},"encoding":{"x":{"datum":0.3575},"y":{"field":"y","type":"quantitative"}}},
{"transform":[{"filter":"datum.k=='t'"}],"mark":{"type":"text","fontSize":22,"color":"#111","baseline":"middle"},"encoding":{"x":{"datum":0.3575},"y":{"field":"y","type":"quantitative"},"text":{"field":"l"}}}
]}
]},
{"spacing":0,"bounds":"flush","hconcat":[
{"width":124,"height":339,"transform":[{"filter":"datum.p=='SLA' && datum.g=='Exclusivas CTA'"}],"layer":[
{"transform":[{"filter":"datum.k=='v'"}],"mark":{"type":"area","orient":"horizontal","interpolate":"monotone","fill":"#e5f5f9","stroke":"#444","strokeWidth":0.9},"encoding":{"y":{"field":"y","type":"quantitative","scale":{"domain":[34.6,155.3],"nice":false,"zero":false},"axis":{"values":[60,90,120,150],"format":"d","title":"SLA (cm²g⁻¹)"}},"x":{"field":"w","type":"quantitative","stack":"center","impute":null,"scale":{"domain":[-0.401,0.699],"nice":false,"zero":false},"axis":{"values":[0.199],"labelExpr":"'Exclusivas CTA'","title":null}}}},
{"transform":[{"filter":"datum.k=='b'"}],"mark":{"type":"rule","color":"#333","strokeWidth":0.8},"encoding":{"x":{"datum":0.199},"y":{"field":"lo","type":"quantitative"},"y2":{"field":"hi"}}},
{"transform":[{"filter":"datum.k=='b'"}],"mark":{"type":"bar","fill":"white","stroke":"#333","strokeWidth":0.8},"encoding":{"x":{"datum":0.149},"x2":{"datum":0.249},"y":{"field":"q1","type":"quantitative"},"y2":{"field":"q3"}}},
{"transform":[{"filter":"datum.k=='b'"}],"mark":{"type":"rule","color":"#111","strokeWidth":1.6},"encoding":{"x":{"datum":0.149},"x2":{"datum":0.249},"y":{"field":"md","type":"quantitative"}}},
{"transform":[{"filter":"datum.k=='t'"}],"mark":{"type":"text","fontSize":22,"color":"#111","baseline":"middle"},"encoding":{"x":{"datum":0.199},"y":{"field":"y","type":"quantitative"},"text":{"field":"l"}}}
]},
{"width":113,"height":339,"transform":[{"filter":"datum.p=='SLA' && datum.g=='Comum'"}],"layer":[
{"transform":[{"filter":"datum.k=='v'"}],"mark":{"type":"area","orient":"horizontal","interpolate":"monotone","fill":"#99d8c9","stroke":"#444","strokeWidth":0.9},"encoding":{"y":{"field":"y","type":"quantitative","scale":{"domain":[34.6,155.3],"nice":false,"zero":false},"axis":null},"x":{"field":"w","type":"quantitative","stack":"center","impute":null,"scale":{"domain":[-0.053,0.947],"nice":false,"zero":false},"axis":{"values":[0.447],"labelExpr":"'Comum'","title":null}}}},
{"transform":[{"filter":"datum.k=='b'"}],"mark":{"type":"rule","color":"#333","strokeWidth":0.8},"encoding":{"x":{"datum":0.447},"y":{"field":"lo","type":"quantitative"},"y2":{"field":"hi"}}},
{"transform":[{"filter":"datum.k=='b'"}],"mark":{"type":"bar","fill":"white","stroke":"#333","strokeWidth":0.8},"encoding":{"x":{"datum":0.397},"x2":{"datum":0.497},"y":{"field":"q1","type":"quantitative"},"y2":{"field":"q3"}}},
{"transform":[{"filter":"datum.k=='b'"}],"mark":{"type":"rule","color":"#111","strokeWidth":1.6},"encoding":{"x":{"datum":0.397},"x2":{"datum":0.497},"y":{"field":"md","type":"quantitative"}}},
{"transform":[{"filter":"datum.k=='o'"}],"mark":{"type":"circle"},"encoding":{"x":{"datum":0.447},"y":{"field":"y","type":"quantitative"}}},
{"transform":[{"filter":"datum.k=='t'"}],"mark":{"type":"text","fontSize":22,"color":"#111","baseline":"middle"},"encoding":{"x":{"datum":0.447},"y":{"field":"y","type":"quantitative"},"text":{"field":"l"}}}
]},
{"width":124,"height":339,"transform":[{"filter":"datum.p=='SLA' && datum.g=='Exclusivas CTI'"}],"layer":[
{"transform":[{"filter":"datum.k=='v'"}],"mark":{"type":"area","orient":"horizontal","interpolate":"monotone","fill":"#2ca25f","stroke":"#444","strokeWidth":0.9},"encoding":{"y":{"field":"y","type":"quantitative","scale":{"domain":[34.6,155.3],"nice":false,"zero":false},"axis":null},"x":{"field":"w","type":"quantitative","stack":"center","impute":null,"scale":{"domain":[-0.149,0.951],"nice":false,"zero":false},"axis":{"values":[0.351],"labelExpr":"'Exclusivas CTI'","title":null}}}},
{"transform":[{"filter":"datum.k=='b'"}],"mark":{"type":"rule","color":"#333","strokeWidth":0.8},"encoding":{"x":{"datum":0.351},"y":{"field":"lo","type":"quantitative"},"y2":{"field":"hi"}}},
{"transform":[{"filter":"datum.k=='b'"}],"mark":{"type":"bar","fill":"white","stroke":"#333","strokeWidth":0.8},"encoding":{"x":{"datum":0.301},"x2":{"datum":0.401},"y":{"field":"q1","type":"quantitative"},"y2":{"field":"q3"}}},
{"transform":[{"filter":"datum.k=='b'"}],"mark":{"type":"rule","color":"#111","strokeWidth":1.6},"encoding":{"x":{"datum":0.301},"x2":{"datum":0.401},"y":{"field":"md","type":"quantitative"}}},
{"transform":[{"filter":"datum.k=='o'"}],"mark":{"type":"circle"},"encoding":{"x":{"datum":0.351},"y":{"field":"y","type":"quantitative"}}},
{"transform":[{"filter":"datum.k=='t'"}],"mark":{"type":"text","fontSize":22,"color":"#111","baseline":"middle"},"encoding":{"x":{"datum":0.351},"y":{"field":"y","type":"quantitative"},"text":{"field":"l"}}}
]}
]}
]}
]},
{"spacing":8,"hconcat":[
{"spacing":0,"bounds":"flush","hconcat":[
{"width":125,"height":339,"transform":[{"filter":"datum.p=='SSD' && datum.g=='Exclusivas CTA'"}],"layer":[
{"transform":[{"filter":"datum.k=='v'"}],"mark":{"type":"area","orient":"horizontal","interpolate":"monotone","fill":"#e5f5f9","stroke":"#444","strokeWidth":0.9},"encoding":{"y":{"field":"y","type":"quantitative","scale":{"domain":[0.2746,0.8243],"nice":false,"zero":false},"axis":{"values":[0.3,0.4,0.5,0.6,0.7,0.8],"format":".1f","title":"SSD (mg mm⁻³)"}},"x":{"field":"w","type":"quantitative","stack":"center","impute":null,"scale":{"domain":[-0.35,0.75],"nice":false,"zero":false},"axis":{"values":[0.25],"labelExpr":"'Exclusivas CTA'","title":null}}}},
{"transform":[{"filter":"datum.k=='b'"}],"mark":{"type":"rule","color":"#333","strokeWidth":0.8},"encoding":{"x":{"datum":0.25},"y":{"field":"lo","type":"quantitative"},"y2":{"field":"hi"}}},
{"transform":[{"filter":"datum.k=='b'"}],"mark":{"type":"bar","fill":"white","stroke":"#333","strokeWidth":0.8},"encoding":{"x":{"datum":0.2},"x2":{"datum":0.3},"y":{"field":"q1","type":"quantitative"},"y2":{"field":"q3"}}},
{"transform":[{"filter":"datum.k=='b'"}],"mark":{"type":"rule","color":"#111","strokeWidth":1.6},"encoding":{"x":{"datum":0.2},"x2":{"datum":0.3},"y":{"field":"md","type":"quantitative"}}}
]},
{"width":113,"height":339,"transform":[{"filter":"datum.p=='SSD' && datum.g=='Comum'"}],"layer":[
{"transform":[{"filter":"datum.k=='v'"}],"mark":{"type":"area","orient":"horizontal","interpolate":"monotone","fill":"#99d8c9","stroke":"#444","strokeWidth":0.9},"encoding":{"y":{"field":"y","type":"quantitative","scale":{"domain":[0.2746,0.8243],"nice":false,"zero":false},"axis":null},"x":{"field":"w","type":"quantitative","stack":"center","impute":null,"scale":{"domain":[-0.046,0.954],"nice":false,"zero":false},"axis":{"values":[0.454],"labelExpr":"'Comum'","title":null}}}},
{"transform":[{"filter":"datum.k=='b'"}],"mark":{"type":"rule","color":"#333","strokeWidth":0.8},"encoding":{"x":{"datum":0.454},"y":{"field":"lo","type":"quantitative"},"y2":{"field":"hi"}}},
{"transform":[{"filter":"datum.k=='b'"}],"mark":{"type":"bar","fill":"white","stroke":"#333","strokeWidth":0.8},"encoding":{"x":{"datum":0.404},"x2":{"datum":0.504},"y":{"field":"q1","type":"quantitative"},"y2":{"field":"q3"}}},
{"transform":[{"filter":"datum.k=='b'"}],"mark":{"type":"rule","color":"#111","strokeWidth":1.6},"encoding":{"x":{"datum":0.404},"x2":{"datum":0.504},"y":{"field":"md","type":"quantitative"}}},
{"transform":[{"filter":"datum.k=='o'"}],"mark":{"type":"circle"},"encoding":{"x":{"datum":0.454},"y":{"field":"y","type":"quantitative"}}}
]},
{"width":125,"height":339,"transform":[{"filter":"datum.p=='SSD' && datum.g=='Exclusivas CTI'"}],"layer":[
{"transform":[{"filter":"datum.k=='v'"}],"mark":{"type":"area","orient":"horizontal","interpolate":"monotone","fill":"#2ca25f","stroke":"#444","strokeWidth":0.9},"encoding":{"y":{"field":"y","type":"quantitative","scale":{"domain":[0.2746,0.8243],"nice":false,"zero":false},"axis":null},"x":{"field":"w","type":"quantitative","stack":"center","impute":null,"scale":{"domain":[-0.206,0.894],"nice":false,"zero":false},"axis":{"values":[0.294],"labelExpr":"'Exclusivas CTI'","title":null}}}},
{"transform":[{"filter":"datum.k=='b'"}],"mark":{"type":"rule","color":"#333","strokeWidth":0.8},"encoding":{"x":{"datum":0.294},"y":{"field":"lo","type":"quantitative"},"y2":{"field":"hi"}}},
{"transform":[{"filter":"datum.k=='b'"}],"mark":{"type":"bar","fill":"white","stroke":"#333","strokeWidth":0.8},"encoding":{"x":{"datum":0.244},"x2":{"datum":0.344},"y":{"field":"q1","type":"quantitative"},"y2":{"field":"q3"}}},
{"transform":[{"filter":"datum.k=='b'"}],"mark":{"type":"rule","color":"#111","strokeWidth":1.6},"encoding":{"x":{"datum":0.244},"x2":{"datum":0.344},"y":{"field":"md","type":"quantitative"}}}
]}
]},
{"spacing":10,"hconcat":[
{"spacing":0,"bounds":"flush","hconcat":[
{"width":132,"height":339,"transform":[{"filter":"datum.p=='BTrel' && datum.g=='Exclusivas CTA'"}],"layer":[
{"transform":[{"filter":"datum.k=='v'"}],"mark":{"type":"area","orient":"horizontal","interpolate":"monotone","fill":"#e5f5f9","stroke":"#444","strokeWidth":0.9},"encoding":{"y":{"field":"y","type":"quantitative","scale":{"domain":[0.0604,3.136],"nice":false,"zero":false},"axis":{"values":[1,2,3],"format":"d","title":"BTrel (mm)"}},"x":{"field":"w","type":"quantitative","stack":"center","impute":null,"scale":{"domain":[-0.1525,0.9475],"nice":false,"zero":false},"axis":{"values":[0.4475],"labelExpr":"'Exclusivas CTA'","title":null}}}},
{"transform":[{"filter":"datum.k=='b'"}],"mark":{"type":"rule","color":"#333","strokeWidth":0.8},"encoding":{"x":{"datum":0.4475},"y":{"field":"lo","type":"quantitative"},"y2":{"field":"hi"}}},
{"transform":[{"filter":"datum.k=='b'"}],"mark":{"type":"bar","fill":"white","stroke":"#333","strokeWidth":0.8},"encoding":{"x":{"datum":0.3975},"x2":{"datum":0.4975},"y":{"field":"q1","type":"quantitative"},"y2":{"field":"q3"}}},
{"transform":[{"filter":"datum.k=='b'"}],"mark":{"type":"rule","color":"#111","strokeWidth":1.6},"encoding":{"x":{"datum":0.3975},"x2":{"datum":0.4975},"y":{"field":"md","type":"quantitative"}}}
]},
{"width":121,"height":339,"transform":[{"filter":"datum.p=='BTrel' && datum.g=='Comum'"}],"layer":[
{"transform":[{"filter":"datum.k=='v'"}],"mark":{"type":"area","orient":"horizontal","interpolate":"monotone","fill":"#99d8c9","stroke":"#444","strokeWidth":0.9},"encoding":{"y":{"field":"y","type":"quantitative","scale":{"domain":[0.0604,3.136],"nice":false,"zero":false},"axis":null},"x":{"field":"w","type":"quantitative","stack":"center","impute":null,"scale":{"domain":[-0.219,0.781],"nice":false,"zero":false},"axis":{"values":[0.281],"labelExpr":"'Comum'","title":null}}}},
{"transform":[{"filter":"datum.k=='b'"}],"mark":{"type":"rule","color":"#333","strokeWidth":0.8},"encoding":{"x":{"datum":0.281},"y":{"field":"lo","type":"quantitative"},"y2":{"field":"hi"}}},
{"transform":[{"filter":"datum.k=='b'"}],"mark":{"type":"bar","fill":"white","stroke":"#333","strokeWidth":0.8},"encoding":{"x":{"datum":0.231},"x2":{"datum":0.331},"y":{"field":"q1","type":"quantitative"},"y2":{"field":"q3"}}},
{"transform":[{"filter":"datum.k=='b'"}],"mark":{"type":"rule","color":"#111","strokeWidth":1.6},"encoding":{"x":{"datum":0.231},"x2":{"datum":0.331},"y":{"field":"md","type":"quantitative"}}},
{"transform":[{"filter":"datum.k=='o'"}],"mark":{"type":"circle"},"encoding":{"x":{"datum":0.281},"y":{"field":"y","type":"quantitative"}}}
]},
{"width":132,"height":339,"transform":[{"filter":"datum.p=='BTrel' && datum.g=='Exclusivas CTI'"}],"layer":[
{"transform":[{"filter":"datum.k=='v'"}],"mark":{"type":"area","orient":"horizontal","interpolate":"monotone","fill":"#2ca25f","stroke":"#444","strokeWidth":0.9},"encoding":{"y":{"field":"y","type":"quantitative","scale":{"domain":[0.0604,3.136],"nice":false,"zero":false},"axis":null},"x":{"field":"w","type":"quantitative","stack":"center","impute":null,"scale":{"domain":[-0.209,0.891],"nice":false,"zero":false},"axis":{"values":[0.291],"labelExpr":"'Exclusivas CTI'","title":null}}}},
{"transform":[{"filter":"datum.k=='b'"}],"mark":{"type":"rule","color":"#333","strokeWidth":0.8},"encoding":{"x":{"datum":0.291},"y":{"field":"lo","type":"quantitative"},"y2":{"field":"hi"}}},
{"transform":[{"filter":"datum.k=='b'"}],"mark":{"type":"bar","fill":"white","stroke":"#333","strokeWidth":0.8},"encoding":{"x":{"datum":0.241},"x2":{"datum":0.341},"y":{"field":"q1","type":"quantitative"},"y2":{"field":"q3"}}},
{"transform":[{"filter":"datum.k=='b'"}],"mark":{"type":"rule","color":"#111","strokeWidth":1.6},"encoding":{"x":{"datum":0.241},"x2":{"datum":0.341},"y":{"field":"md","type":"quantitative"}}},
{"transform":[{"filter":"datum.k=='o'"}],"mark":{"type":"circle"},"encoding":{"x":{"datum":0.291},"y":{"field":"y","type":"quantitative"}}}
]}
]},
{"spacing":0,"bounds":"flush","hconcat":[
{"width":129,"height":339,"transform":[{"filter":"datum.p=='HTOT' && datum.g=='Exclusivas CTA'"}],"layer":[
{"transform":[{"filter":"datum.k=='v'"}],"mark":{"type":"area","orient":"horizontal","interpolate":"monotone","fill":"#e5f5f9","stroke":"#444","strokeWidth":0.9},"encoding":{"y":{"field":"y","type":"quantitative","scale":{"domain":[0.337,14.635],"nice":false,"zero":false},"axis":{"values":[5,10],"format":"d","title":"HTOT (m)"}},"x":{"field":"w","type":"quantitative","stack":"center","impute":null,"scale":{"domain":[-0.1485,0.9515],"nice":false,"zero":false},"axis":{"values":[0.4515],"labelExpr":"'Exclusivas CTA'","title":null}}}},
{"transform":[{"filter":"datum.k=='b'"}],"mark":{"type":"rule","color":"#333","strokeWidth":0.8},"encoding":{"x":{"datum":0.4515},"y":{"field":"lo","type":"quantitative"},"y2":{"field":"hi"}}},
{"transform":[{"filter":"datum.k=='b'"}],"mark":{"type":"bar","fill":"white","stroke":"#333","strokeWidth":0.8},"encoding":{"x":{"datum":0.4015},"x2":{"datum":0.5015},"y":{"field":"q1","type":"quantitative"},"y2":{"field":"q3"}}},
{"transform":[{"filter":"datum.k=='b'"}],"mark":{"type":"rule","color":"#111","strokeWidth":1.6},"encoding":{"x":{"datum":0.4015},"x2":{"datum":0.5015},"y":{"field":"md","type":"quantitative"}}}
]},
{"width":117,"height":339,"transform":[{"filter":"datum.p=='HTOT' && datum.g=='Comum'"}],"layer":[
{"transform":[{"filter":"datum.k=='v'"}],"mark":{"type":"area","orient":"horizontal","interpolate":"monotone","fill":"#99d8c9","stroke":"#444","strokeWidth":0.9},"encoding":{"y":{"field":"y","type":"quantitative","scale":{"domain":[0.337,14.635],"nice":false,"zero":false},"axis":null},"x":{"field":"w","type":"quantitative","stack":"center","impute":null,"scale":{"domain":[-0.156,0.844],"nice":false,"zero":false},"axis":{"values":[0.344],"labelExpr":"'Comum'","title":null}}}},
{"transform":[{"filter":"datum.k=='b'"}],"mark":{"type":"rule","color":"#333","strokeWidth":0.8},"encoding":{"x":{"datum":0.344},"y":{"field":"lo","type":"quantitative"},"y2":{"field":"hi"}}},
{"transform":[{"filter":"datum.k=='b'"}],"mark":{"type":"bar","fill":"white","stroke":"#333","strokeWidth":0.8},"encoding":{"x":{"datum":0.294},"x2":{"datum":0.394},"y":{"field":"q1","type":"quantitative"},"y2":{"field":"q3"}}},
{"transform":[{"filter":"datum.k=='b'"}],"mark":{"type":"rule","color":"#111","strokeWidth":1.6},"encoding":{"x":{"datum":0.294},"x2":{"datum":0.394},"y":{"field":"md","type":"quantitative"}}},
{"transform":[{"filter":"datum.k=='o'"}],"mark":{"type":"circle"},"encoding":{"x":{"datum":0.344},"y":{"field":"y","type":"quantitative"}}}
]},
{"width":129,"height":339,"transform":[{"filter":"datum.p=='HTOT' && datum.g=='Exclusivas CTI'"}],"layer":[
{"transform":[{"filter":"datum.k=='v'"}],"mark":{"type":"area","orient":"horizontal","interpolate":"monotone","fill":"#2ca25f","stroke":"#444","strokeWidth":0.9},"encoding":{"y":{"field":"y","type":"quantitative","scale":{"domain":[0.337,14.635],"nice":false,"zero":false},"axis":null},"x":{"field":"w","type":"quantitative","stack":"center","impute":null,"scale":{"domain":[-0.088,1.012],"nice":false,"zero":false},"axis":{"values":[0.412],"labelExpr":"'Exclusivas CTI'","title":null}}}},
{"transform":[{"filter":"datum.k=='b'"}],"mark":{"type":"rule","color":"#333","strokeWidth":0.8},"encoding":{"x":{"datum":0.412},"y":{"field":"lo","type":"quantitative"},"y2":{"field":"hi"}}},
{"transform":[{"filter":"datum.k=='b'"}],"mark":{"type":"bar","fill":"white","stroke":"#333","strokeWidth":0.8},"encoding":{"x":{"datum":0.362},"x2":{"datum":0.462},"y":{"field":"q1","type":"quantitative"},"y2":{"field":"q3"}}},
{"transform":[{"filter":"datum.k=='b'"}],"mark":{"type":"rule","color":"#111","strokeWidth":1.6},"encoding":{"x":{"datum":0.362},"x2":{"datum":0.462},"y":{"field":"md","type":"quantitative"}}}
]}
]}
]}
]}
]
}
